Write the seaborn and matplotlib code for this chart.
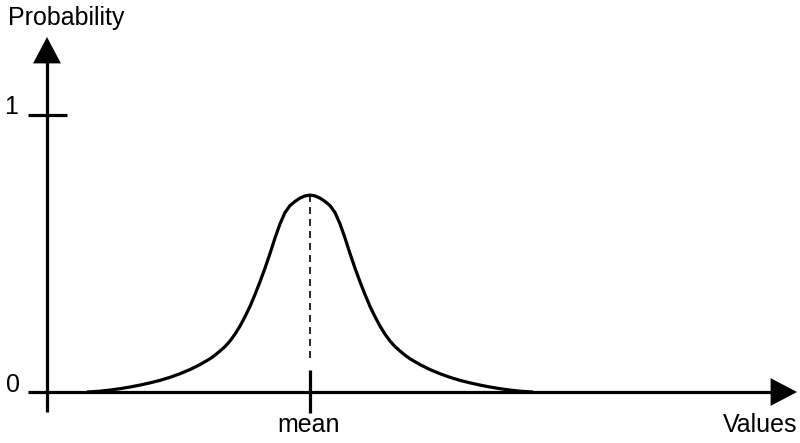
import matplotlib
matplotlib.use("Agg")
import matplotlib.pyplot as plt
import seaborn as sns
import pandas as pd

# ---- data ----
x_values = [-4.45, -4.2, -4.0, -3.8, -3.6, -3.4, -3.2, -3.0, -2.8, -2.6, -2.4, -2.2,
            -2.0, -1.9, -1.8, -1.7, -1.6, -1.5, -1.4, -1.3, -1.2, -1.1, -1.0, -0.9, -0.8,
            -0.7, -0.6, -0.5, -0.4, -0.3, -0.2, -0.1, 0.0,
            0.1, 0.2, 0.3, 0.4, 0.5, 0.6, 0.7, 0.8, 0.9, 1.0, 1.1, 1.2, 1.3, 1.4,
            1.5, 1.6, 1.7, 1.8, 1.9, 2.0, 2.2, 2.4, 2.6, 2.8, 3.0, 3.2, 3.4, 3.6,
            3.8, 4.0, 4.2, 4.45]
probability = [0.0, 0.003, 0.007, 0.012, 0.018, 0.025, 0.033, 0.042, 0.053, 0.066, 0.081, 0.099,
               0.120, 0.133, 0.148, 0.164, 0.184, 0.209, 0.238, 0.272, 0.309, 0.352, 0.398,
               0.447, 0.500, 0.556, 0.607, 0.648, 0.673, 0.688, 0.700, 0.708, 0.711,
               0.708, 0.700, 0.688, 0.673, 0.648, 0.607, 0.556, 0.500, 0.447, 0.398, 0.352,
               0.309, 0.272, 0.238, 0.209, 0.184, 0.164, 0.148, 0.133, 0.120, 0.099, 0.081,
               0.066, 0.053, 0.042, 0.033, 0.025, 0.018, 0.012, 0.007, 0.003, 0.0]
mean_value = 0.0
peak_value = 0.711
y_tick_labels = ["0", "1"]
x_tick_label = "mean"
x_label = "Values"
y_label = "Probability"

sns.set_style("white")
plt.rcParams["font.family"] = ["Liberation Sans", "DejaVu Sans"]

fig = plt.figure(figsize=(8, 4.43), dpi=100)
ax = fig.add_axes([0, 0, 1, 1])
ax.set_xlim(-6.2, 9.8)
ax.set_ylim(-0.1841, 1.4152)
ax.axis("off")

lw = 2.3
# x axis with arrow
ax.plot([-5.64, 9.3], [0, 0], color="black", lw=lw, solid_capstyle="butt", zorder=2)
ax.annotate("", xy=(9.74, 0), xytext=(9.0, 0),
            arrowprops=dict(arrowstyle="-|>,head_length=0.95,head_width=0.5",
                            mutation_scale=20, color="black", lw=0, shrinkA=0, shrinkB=0))
# y axis with arrow
ax.plot([-5.26, -5.26], [-0.072, 1.2], color="black", lw=lw, solid_capstyle="butt", zorder=2)
ax.annotate("", xy=(-5.26, 1.2816), xytext=(-5.26, 1.15),
            arrowprops=dict(arrowstyle="-|>,head_length=0.95,head_width=0.5",
                            mutation_scale=20, color="black", lw=0, shrinkA=0, shrinkB=0))
# tick at 1
ax.plot([-5.64, -4.86], [1, 1], color="black", lw=lw, solid_capstyle="butt")
# mean tick
ax.plot([mean_value, mean_value], [-0.0758, 0.0794], color="black", lw=lw, solid_capstyle="butt")
# dashed line at mean
ax.plot([mean_value, mean_value], [peak_value, 0.108], color="black", lw=1.2,
        linestyle=(0, (4.2, 3.0)))

df = pd.DataFrame({"x": x_values, "p": probability})
sns.lineplot(data=df, x="x", y="p", ax=ax, color="black", lw=lw, sort=False, zorder=3)

fs = 18
tc = "black"
ax.text(-6.04, 1.350, y_label, ha="left", va="center", fontsize=fs, color=tc)
ax.text(-5.84, 1.029, y_tick_labels[1], ha="right", va="center", fontsize=fs, color=tc)
ax.text(-5.80, 0.025, y_tick_labels[0], ha="right", va="center", fontsize=fs, color=tc)
ax.text(mean_value - 0.02, -0.119, x_tick_label, ha="center", va="center", fontsize=fs, color=tc)
ax.text(9.74, -0.119, x_label, ha="right", va="center", fontsize=fs, color=tc)

fig.savefig("out.png", dpi=100)
